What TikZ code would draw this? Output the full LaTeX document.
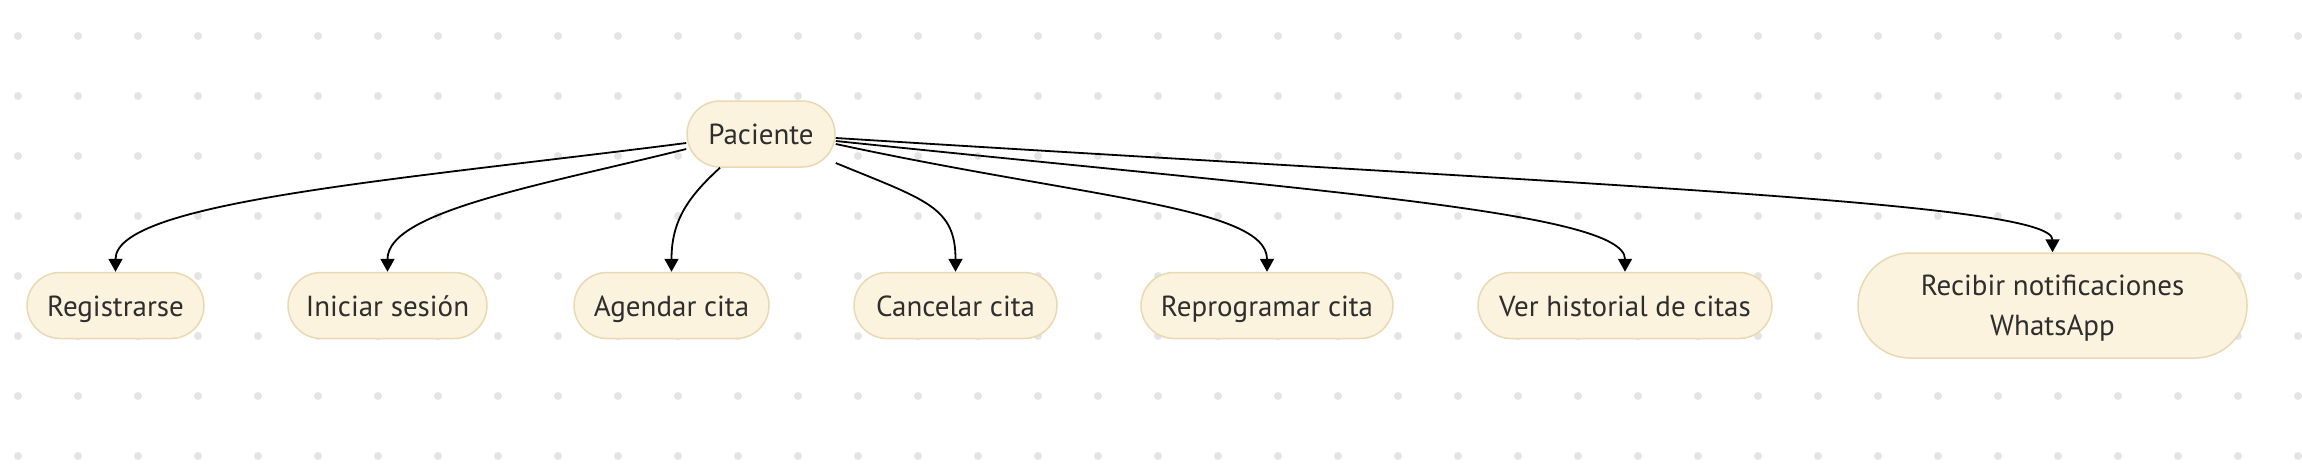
\documentclass[tikz,border=0pt]{standalone}
\usepackage{fontspec}
\setmainfont{PT Sans}
\usetikzlibrary{arrows.meta}

\definecolor{fondoCaso}{HTML}{FCF3DE}
\definecolor{bordeCaso}{HTML}{E8D9B2}
\definecolor{textoCaso}{HTML}{2E2E2E}
\definecolor{punto}{HTML}{E4E4E4}

\begin{document}
\begin{tikzpicture}[x=1pt, y=-1pt,
    caso/.style={draw=bordeCaso, fill=fondoCaso, line width=1.5pt, rounded corners=33pt, minimum height=66pt, inner sep=0pt, text=textoCaso, font=\fontsize{29}{40}\selectfont},
    linea/.style={caso, text height=21pt, text depth=0pt},
    flecha/.style={line width=1.8pt, -{Triangle[length=13pt, width=14pt]}}]
        \useasboundingbox (0,0) rectangle (2302,474);

        % Dots
        \foreach \i in {0,...,38}
            \foreach \j in {0,...,7}
                \fill[punto] (18+60*\i, 36+60*\j) circle (4pt);

        % Nodes
        \node[linea, minimum width=148pt] (pac) at (761,134) {Paciente};
        \node[linea, minimum width=177pt] (reg) at (115.5,305.5) {Registrarse};
        \node[linea, minimum width=199pt] (ini) at (387.5,305.5) {Iniciar sesión};
        \node[linea, minimum width=195pt] (age) at (671.5,305.5) {Agendar cita};
        \node[linea, minimum width=203pt] (can) at (955.5,305.5) {Cancelar cita};
        \node[linea, minimum width=252pt] (rep) at (1267,305.5) {Reprogramar cita};
        \node[linea, minimum width=294pt] (ver) at (1625,305.5) {Ver historial de citas};
        \node[caso, minimum width=389pt, minimum height=105pt, rounded corners=52pt, align=center, text height=61pt, text depth=2pt] (rec) at (2052.5,305.5) {Recibir notificaciones\\WhatsApp};

        % Edges
        \draw[flecha] ([yshift=-9pt]pac.west) .. controls +(-289,37) and +(0,-70) .. (reg.north);
        \draw[flecha] ([yshift=-15pt]pac.west) .. controls +(-149,37) and +(0,-60) .. (ini.north);
        \draw[flecha] ([xshift=-41pt]pac.south) .. controls +(-33,30) and +(0,-50) .. (age.north);
        \draw[flecha] ([yshift=-29pt]pac.east) .. controls +(90,37) and +(0,-65) .. (can.north);
        \draw[flecha] ([yshift=-10pt]pac.east) .. controls +(250,54) and +(0,-65) .. (rep.north);
        \draw[flecha] ([yshift=-7pt]pac.east) .. controls +(480,50) and +(0,-60) .. (ver.north);
        \draw[flecha] ([yshift=-4pt]pac.east) .. controls +(750,47) and +(0,-50) .. (rec.north);
\end{tikzpicture}
\end{document}
